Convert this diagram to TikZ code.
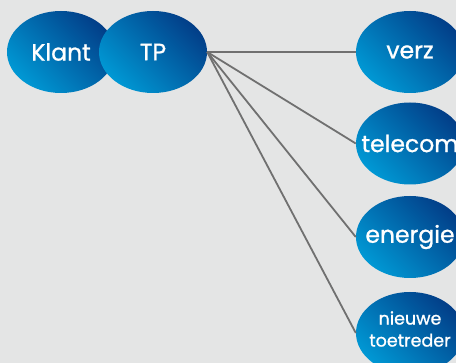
\documentclass[tikz,border=0pt]{standalone}
\usepackage{fontspec}
\setmainfont{Poppins}[FakeBold=1]
\usepackage{xcolor}
\usetikzlibrary{shapes.geometric}
\definecolor{bgc}{RGB}{228,229,229}
\definecolor{lightb}{RGB}{0,152,212}
\definecolor{darkb}{RGB}{2,62,136}
\definecolor{linec}{RGB}{112,112,112}
\tikzset{
  bol/.style={ellipse,inner sep=0pt,minimum width=108pt,minimum height=82pt,
    top color=lightb,bottom color=darkb,shading angle=135},
  lbl/.style={text=white,align=center,inner sep=0pt,font=\fontsize{23.5}{26}\selectfont},
  lnk/.style={draw=linec,line width=1.8pt},
}
\begin{document}
\begin{tikzpicture}[x=1pt,y=1pt]
\useasboundingbox (0,0) rectangle (456,-363);
\clip (0,0) rectangle (456,-363);
\fill[bgc] (0,0) rectangle (456,-363);
\node[bol] (klant) at (61,-52) {};
\node[lbl] (klantt) at (klant.center) {Klant};
\node[bol] (tp) at (153,-52) {};
\node[lbl] (tpt) at (tp.center) {TP};
\foreach \i/\lab/\y in {0/verz/52,1/telecom/143.5,2/energie/237} {
  \node[bol] (s\i) at (410,-\y) {};
  \node[lbl] (s\i t) at (s\i.center) {\lab};
  \draw[lnk] (tp.east) -- (s\i.west);
}
\node[bol] (s3) at (410,-333) {};
\node[lbl,font=\fontsize{17.5}{22}\selectfont] (s3t) at ([yshift=4pt]s3.center) {nieuwe\\toetreder};
\draw[lnk] (tp.east) -- (s3.west);
\end{tikzpicture}
\end{document}
